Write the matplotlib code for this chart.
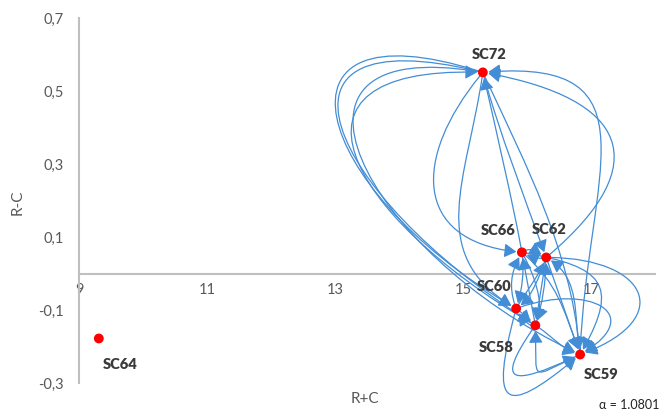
import math
import matplotlib
matplotlib.use("Agg")
import matplotlib.pyplot as plt
from matplotlib.patches import FancyArrowPatch, ConnectionStyle, ArrowStyle
from matplotlib.path import Path

# ---- data ----
nodes = ['SC72', 'SC66', 'SC62', 'SC60', 'SC58', 'SC59', 'SC64']
r_plus_c = [15.31, 15.92, 16.30, 15.83, 16.13, 16.83, 9.31]
r_minus_c = [0.551, 0.058, 0.044, -0.096, -0.142, -0.222, -0.178]

edge_src = ['SC72', 'SC72', 'SC58', 'SC72', 'SC72', 'SC66', 'SC72', 'SC72', 'SC59', 'SC62',
            'SC72', 'SC66', 'SC62', 'SC60', 'SC66', 'SC58', 'SC66', 'SC62', 'SC60', 'SC62',
            'SC58', 'SC60', 'SC58', 'SC66', 'SC62', 'SC59', 'SC60', 'SC59', 'SC58', 'SC60',
            'SC66', 'SC62', 'SC58']
edge_dst = ['SC60', 'SC58', 'SC72', 'SC59', 'SC66', 'SC72', 'SC60', 'SC59', 'SC72', 'SC72',
            'SC62', 'SC62', 'SC66', 'SC66', 'SC60', 'SC66', 'SC58', 'SC60', 'SC62', 'SC58',
            'SC62', 'SC58', 'SC60', 'SC59', 'SC59', 'SC62', 'SC59', 'SC58', 'SC59', 'SC59',
            'SC59', 'SC59', 'SC59']

x_ticks = [9, 11, 13, 15, 17]
y_ticks = [-0.3, -0.1, 0.1, 0.3, 0.5, 0.7]
y_tick_labels = ['-0,3', '-0,1', '0,1', '0,3', '0,5', '0,7']
alpha_text = 'α = 1.0801'

# ---- styles for the curved links: (out angle, in angle, looseness) ----
edge_shape = [(162, 150, 1.0), (166, 148, 0.95), (150, 178, 0.85), (170, 155, 0.8), (230, 175, 0.6),
              (100, 283, 0.25), (262, 150, 0.45), (-65, 95, 0.35), (88, 5, 0.6), (40, -10, 0.75),
              (-75, 110, 0.3), (30, 150, 0.5), (200, -30, 0.3), (110, 240, 0.4), (280, 70, 0.3),
              (100, 280, 0.3), (-60, 60, 0.3), (250, 30, 0.3), (60, 250, 0.3), (260, 80, 0.2),
              (70, 270, 0.3), (-30, 150, 0.3), (200, -60, 0.3), (-40, 110, 0.4), (0, 20, 1.0),
              (100, -30, 0.4), (255, 220, 1.3), (205, 272, 1.1), (235, 205, 1.4), (20, 30, 1.0),
              (-10, 60, 0.7), (-70, 110, 0.2), (-30, 170, 0.3)]

# label offsets in pixels from the node centre
label_offsets = {'SC72': (6, 18), 'SC66': (-24, 22), 'SC62': (3, 28), 'SC60': (-22, 22),
                 'SC58': (-39, -22), 'SC59': (21, -20), 'SC64': (21, -26)}

LINE = '#428dd6'
AXC = '#bfbfbf'
TXT = '#595959'

plt.rcParams['font.family'] = ['Lato', 'DejaVu Sans']


class OutIn(ConnectionStyle._Base):
    def __init__(self, a_out, a_in, loose):
        self.a_out = math.radians(a_out)
        self.a_in = math.radians(a_in)
        self.loose = loose

    def connect(self, posA, posB):
        x1, y1 = posA
        x2, y2 = posB
        d = math.hypot(x2 - x1, y2 - y1)
        L = self.loose * d
        c1 = (x1 + L * math.cos(self.a_out), y1 + L * math.sin(self.a_out))
        c2 = (x2 + L * math.cos(self.a_in), y2 + L * math.sin(self.a_in))
        return Path([(x1, y1), c1, c2, (x2, y2)],
                    [Path.MOVETO, Path.CURVE4, Path.CURVE4, Path.CURVE4])


fig = plt.figure(figsize=(6.6, 4.12), dpi=100)
ax = fig.add_axes([79 / 660, 1 - 383 / 412, (655 - 79) / 660, (383 - 18) / 412])
ax.set_xlim(9, 18)
ax.set_ylim(-0.3, 0.7)
for s in ['top', 'right']:
    ax.spines[s].set_visible(False)
ax.spines['bottom'].set_position(('data', 0))
ax.spines['left'].set_position(('data', 9))
for s in ['bottom', 'left']:
    ax.spines[s].set_color(AXC)
    ax.spines[s].set_linewidth(1.5)
ax.set_xticks(x_ticks)
ax.set_xticklabels([str(v) for v in x_ticks])
ax.set_yticks(y_ticks)
ax.set_yticklabels(y_tick_labels)
ax.tick_params(axis='both', length=0, labelcolor=TXT, labelsize=10.5)
ax.tick_params(axis='y', pad=11)
ax.tick_params(axis='x', pad=7)

pos = {n: (x, y) for n, x, y in zip(nodes, r_plus_c, r_minus_c)}

for s, t, (ao, ai, lo) in zip(edge_src, edge_dst, edge_shape):
    arr = FancyArrowPatch(pos[s], pos[t], connectionstyle=OutIn(ao, ai, lo),
                          arrowstyle=ArrowStyle('-|>', head_length=0.6, head_width=0.35),
                          mutation_scale=12, color=LINE, lw=0.9, shrinkA=3, shrinkB=4,
                          zorder=3, clip_on=False)
    ax.add_patch(arr)

ax.scatter(r_plus_c, r_minus_c, s=50, color='#ff0000', zorder=5, edgecolors='none')

for n, x, y in zip(nodes, r_plus_c, r_minus_c):
    dx, dy = label_offsets[n]
    ax.annotate(n, (x, y), xytext=(dx, dy), textcoords='offset pixels', ha='center',
                va='center', fontsize=10.5, fontweight='heavy', color='#3a3a3a', zorder=6)

fig.text(18 / 660, 1 - 202 / 412, 'R-C', rotation=90, ha='center', va='center',
         fontsize=11, color=TXT)
fig.text(365 / 660, 1 - 399 / 412, 'R+C', ha='center', va='center', fontsize=11, color=TXT)
fig.text(659 / 660, 1 - 405 / 412, alpha_text, ha='right', va='center', fontsize=9,
         color='#222222')

fig.savefig('out.png', dpi=100)
